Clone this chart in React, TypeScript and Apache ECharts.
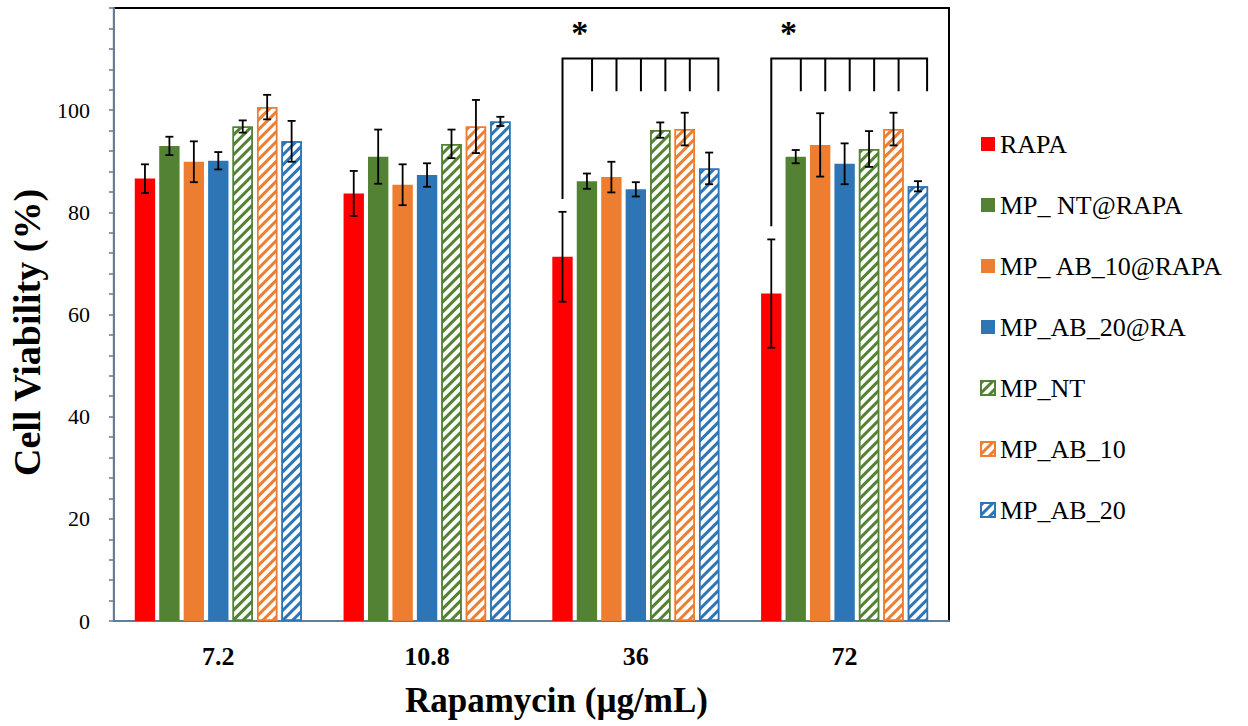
import React, { useEffect, useRef } from "react";
import * as echarts from "echarts";

const categories = ["7.2", "10.8", "36", "72"];
const seriesNames = ["RAPA", "MP_ NT@RAPA", "MP_ AB_10@RAPA", "MP_AB_20@RA", "MP_NT", "MP_AB_10", "MP_AB_20"];
const seriesColors = ["#ff0000", "#548235", "#ed7d31", "#2e75b6", "#548235", "#ed7d31", "#2e75b6"];
const seriesHatched = [false, false, false, false, true, true, true];

const rapa = [86.6, 83.7, 71.3, 64.1];
const rapaErr = [2.8, 4.4, 8.8, 10.6];
const ntRapa = [93.0, 90.9, 86.1, 90.9];
const ntRapaErr = [1.8, 5.3, 1.5, 1.3];
const ab10Rapa = [89.9, 85.4, 86.9, 93.2];
const ab10RapaErr = [4.0, 4.0, 3.0, 6.2];
const ab20Ra = [90.1, 87.3, 84.5, 89.5];
const ab20RaErr = [1.7, 2.3, 1.4, 4.0];
const mpNt = [96.8, 93.4, 96.1, 92.4];
const mpNtErr = [1.2, 2.8, 1.5, 3.5];
const mpAb10 = [100.6, 96.8, 96.3, 96.3];
const mpAb10Err = [2.4, 5.2, 3.2, 3.2];
const mpAb20 = [93.9, 97.8, 88.6, 85.1];
const mpAb20Err = [4.0, 0.9, 3.1, 1.0];

const seriesValues = [rapa, ntRapa, ab10Rapa, ab20Ra, mpNt, mpAb10, mpAb20];
const seriesErrors = [rapaErr, ntRapaErr, ab10RapaErr, ab20RaErr, mpNtErr, mpAb10Err, mpAb20Err];

// significance brackets: category index, bottom of the long left leg
const sigCategories = [2, 3];
const sigLeftBottom = [82.6, 77.3];
const sigBracketTop = 110.1;
const sigTickBottom = 103.7;
const sigStarValue = 115.2;

const FONT = "Liberation Serif";
const AXIS_COLOR = "#5f7d9c";
const BAR_CAT_GAP = 0.2;
const BAR_GAP = 0.2;
const N = seriesNames.length;

function barGeom(api: any) {
  const band = api.size([1, 0])[0];
  const bw = (band * (1 - BAR_CAT_GAP)) / (N + (N - 1) * BAR_GAP);
  return { bw, step: bw * (1 + BAR_GAP) };
}

export default function App() {
  const ref = useRef<HTMLDivElement>(null);
  useEffect(() => {
    if (!ref.current) return;
    const chart = echarts.init(ref.current, null, { renderer: "svg" });

    const barSeries = seriesNames.map((name, i) => {
      const color = seriesColors[i];
      const itemStyle: any = seriesHatched[i]
        ? {
            color: "#ffffff",
            borderColor: color,
            borderWidth: 1.5,
            decal: {
              symbol: "rect",
              symbolSize: 1,
              color: color,
              dashArrayX: [1, 0],
              dashArrayY: [2.5, 3.5],
              rotation: -Math.PI / 4,
            },
          }
        : { color };
      return {
        type: "bar",
        name,
        data: seriesValues[i],
        barCategoryGap: "20%",
        barGap: "20%",
        itemStyle,
        z: 2,
      };
    });

    const errSeries = seriesNames.map((_, si) => ({
      type: "custom",
      z: 5,
      silent: true,
      data: categories.map((_c, ci) => [ci, seriesValues[si][ci], seriesErrors[si][ci]]),
      renderItem: (params: any, api: any) => {
        const cat = api.value(0);
        const mean = api.value(1);
        const err = api.value(2);
        const { step } = barGeom(api);
        const x = api.coord([cat, mean])[0] + (si - (N - 1) / 2) * step;
        const yHi = api.coord([cat, mean + err])[1];
        const yLo = api.coord([cat, mean - err])[1];
        const cap = 4;
        const style = { stroke: "#000", lineWidth: 1.8 };
        return {
          type: "group",
          children: [
            { type: "line", shape: { x1: x, y1: yHi, x2: x, y2: yLo }, style },
            { type: "line", shape: { x1: x - cap, y1: yHi, x2: x + cap, y2: yHi }, style },
            { type: "line", shape: { x1: x - cap, y1: yLo, x2: x + cap, y2: yLo }, style },
          ],
        };
      },
    }));

    const sigSeries = {
      type: "custom",
      z: 6,
      silent: true,
      data: sigCategories.map((c, i) => [c, sigLeftBottom[i]]),
      renderItem: (params: any, api: any) => {
        const cat = api.value(0);
        const leftBottom = api.value(1);
        const { bw, step } = barGeom(api);
        const top = api.coord([cat, sigBracketTop]);
        const cx = top[0];
        const topY = top[1];
        const tickY = api.coord([cat, sigTickBottom])[1];
        const leftY = api.coord([cat, leftBottom])[1];
        const starY = api.coord([cat, sigStarValue])[1];
        const x0 = cx - 3 * step;
        const xLast = cx + 3 * step + 0.45 * bw;
        const style = { stroke: "#000", lineWidth: 2, fill: "none" };
        const children: any[] = [
          {
            type: "polyline",
            shape: { points: [[x0, leftY], [x0, topY], [xLast, topY], [xLast, tickY]] },
            style,
          },
        ];
        for (let k = 1; k <= 5; k++) {
          const x = cx + (k - 3) * step + 0.25 * bw;
          children.push({ type: "line", shape: { x1: x, y1: topY, x2: x, y2: tickY }, style });
        }
        children.push({
          type: "text",
          x: x0 + 0.85 * bw,
          y: starY,
          style: {
            text: "*",
            fill: "#000",
            fontFamily: FONT,
            fontSize: 34,
            fontWeight: "bold",
            align: "center",
            verticalAlign: "middle",
          },
        });
        return { type: "group", children };
      },
    };

    chart.setOption({
      animation: false,
      backgroundColor: "#ffffff",
      textStyle: { fontFamily: FONT },
      grid: {
        left: 112,
        right: 299,
        top: 8,
        bottom: 105,
        show: true,
        borderColor: "#000",
        borderWidth: 2,
        backgroundColor: "transparent",
      },
      legend: {
        data: seriesNames,
        orient: "vertical",
        left: 975,
        top: 126,
        itemWidth: 14,
        itemHeight: 14,
        itemGap: 35,
        icon: "rect",
        selectedMode: false,
        textStyle: { fontFamily: FONT, fontSize: 26, color: "#000", lineHeight: 26 },
      },
      xAxis: {
        type: "category",
        data: categories,
        name: "Rapamycin (µg/mL)",
        nameLocation: "middle",
        nameGap: 62,
        nameTextStyle: {
          fontFamily: FONT,
          fontSize: 35,
          fontWeight: "bold",
          color: "#000",
          padding: [0, 0, 0, 50],
        },
        axisLine: { show: true, lineStyle: { color: AXIS_COLOR, width: 2 } },
        axisTick: { show: false },
        axisLabel: { fontFamily: FONT, fontSize: 26, fontWeight: "bold", color: "#000", margin: 22 },
      },
      yAxis: {
        type: "value",
        min: 0,
        max: 120,
        interval: 20,
        name: "Cell Viability (%)",
        nameLocation: "middle",
        nameGap: 60,
        nameTextStyle: {
          fontFamily: FONT,
          fontSize: 38,
          fontWeight: "bold",
          color: "#000",
          padding: [0, 36, 0, 0],
        },
        axisLine: { show: true, lineStyle: { color: AXIS_COLOR, width: 2 } },
        axisTick: { show: true, length: 5, lineStyle: { color: AXIS_COLOR, width: 1.5 } },
        minorTick: { show: true, splitNumber: 5, length: 5, lineStyle: { color: AXIS_COLOR, width: 1.5 } },
        splitLine: { show: false },
        axisLabel: {
          fontFamily: FONT,
          fontSize: 22,
          color: "#000",
          margin: 24,
          formatter: (v: number) => (v === 120 ? "" : String(v)),
        },
      },
      series: [...barSeries, ...errSeries, sigSeries],
    });
    return () => chart.dispose();
  }, []);
  return (
    <div
      ref={ref}
      style={{ position: "fixed", left: 0, top: 0, width: 1248, height: 726, background: "#fff" }}
    />
  );
}
